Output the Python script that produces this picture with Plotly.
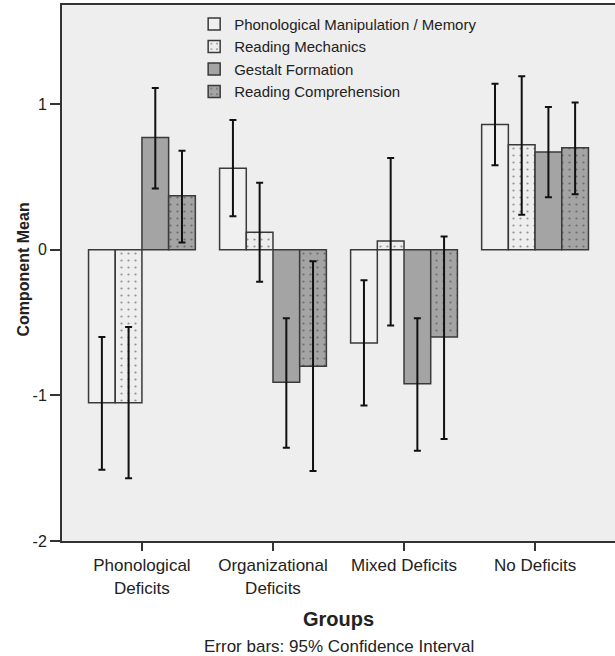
import plotly.graph_objects as go

groups = ["Phonological<br>Deficits", "Organizational<br>Deficits", "Mixed Deficits", "No Deficits"]
series_names = ["Phonological Manipulation / Memory", "Reading Mechanics",
                "Gestalt Formation", "Reading Comprehension"]
y_ticks = [-2, -1, 0, 1]
y_tick_labels = ["-2", "-1", "0", "1"]

# Means per series (one value per group)
phon_manip = [-1.05, 0.56, -0.64, 0.86]
reading_mech = [-1.05, 0.12, 0.06, 0.72]
gestalt = [0.77, -0.91, -0.92, 0.67]
reading_comp = [0.37, -0.80, -0.60, 0.70]

# 95% CI upper bounds
phon_manip_hi = [-0.60, 0.89, -0.21, 1.14]
reading_mech_hi = [-0.53, 0.46, 0.63, 1.19]
gestalt_hi = [1.11, -0.47, -0.47, 0.98]
reading_comp_hi = [0.68, -0.08, 0.09, 1.01]

# 95% CI lower bounds
phon_manip_lo = [-1.51, 0.23, -1.07, 0.58]
reading_mech_lo = [-1.57, -0.22, -0.52, 0.24]
gestalt_lo = [0.42, -1.36, -1.38, 0.36]
reading_comp_lo = [0.05, -1.52, -1.30, 0.38]

means = [phon_manip, reading_mech, gestalt, reading_comp]
his = [phon_manip_hi, reading_mech_hi, gestalt_hi, reading_comp_hi]
los = [phon_manip_lo, reading_mech_lo, gestalt_lo, reading_comp_lo]

fills = ["#F0F0F0", "#EEEEEE", "#A4A4A4", "#A4A4A4"]
patterns = ["", ".", "", "."]

FONT = "Liberation Sans, Arial, sans-serif"
TXT = "#222222"

fig = go.Figure()
for name, m, hi, lo, fc, pat in zip(series_names, means, his, los, fills, patterns):
    fig.add_trace(go.Bar(
        name=name, x=groups, y=m,
        marker=dict(color=fc, line=dict(color="#3a3a3a", width=1.5),
                    pattern=dict(shape=pat, fgcolor="#333333", bgcolor=fc,
                                 size=7, solidity=0.08, fillmode="overlay")),
        error_y=dict(type="data", symmetric=False,
                     array=[h - v for h, v in zip(hi, m)],
                     arrayminus=[v - l for v, l in zip(m, lo)],
                     color="#111111", thickness=2, width=3.5),
    ))

fig.update_layout(
    width=615, height=656,
    margin=dict(l=62, r=0, t=5, b=115, autoexpand=False),
    paper_bgcolor="white", plot_bgcolor="#EEEEEE",
    barmode="group", bargap=0.185, bargroupgap=0,
    font=dict(family=FONT, color=TXT, size=16),
    showlegend=True,
    legend=dict(x=0.239, y=0.995, xanchor="left", yanchor="top",
                bgcolor="rgba(0,0,0,0)", font=dict(size=15, family=FONT, color=TXT),
                itemwidth=30, tracegroupgap=0),
    xaxis=dict(type="category", range=[-0.61, 3.61], showline=True, linecolor="#333333",
               linewidth=2, mirror=True, ticks="outside", ticklen=8, tickcolor="#333333",
               tickwidth=1.5, showgrid=False, zeroline=False, automargin=False,
               tickfont=dict(size=17, family=FONT, color=TXT)),
    yaxis=dict(range=[-2, 1.68], tickvals=y_ticks, ticktext=y_tick_labels, showline=True,
               linecolor="#333333", linewidth=2, ticks="outside", ticklen=10,
               tickcolor="#333333", tickwidth=1.5, automargin=False,
               showgrid=False, zeroline=False,
               tickfont=dict(size=16, family=FONT, color=TXT)),
    annotations=[
        dict(text="<b>Component Mean</b>", xref="paper", yref="paper", x=-0.07, y=0.507,
             xanchor="center", yanchor="middle", textangle=-90, showarrow=False,
             font=dict(size=16, family=FONT, color=TXT)),
        dict(text="<b>Groups</b>", xref="paper", yref="paper", x=0.5, y=-0.1455,
             xanchor="center", yanchor="middle", showarrow=False,
             font=dict(size=20, family=FONT, color=TXT)),
        dict(text="Error bars: 95% Confidence Interval", xref="paper", yref="paper",
             x=0.5, y=-0.196, xanchor="center", yanchor="middle", showarrow=False,
             font=dict(size=17, family=FONT, color=TXT)),
    ],
)

fig.write_html("out.html", config={"displayModeBar": False},
               post_script="document.body.style.margin='0px';document.body.style.overflow='hidden';")
